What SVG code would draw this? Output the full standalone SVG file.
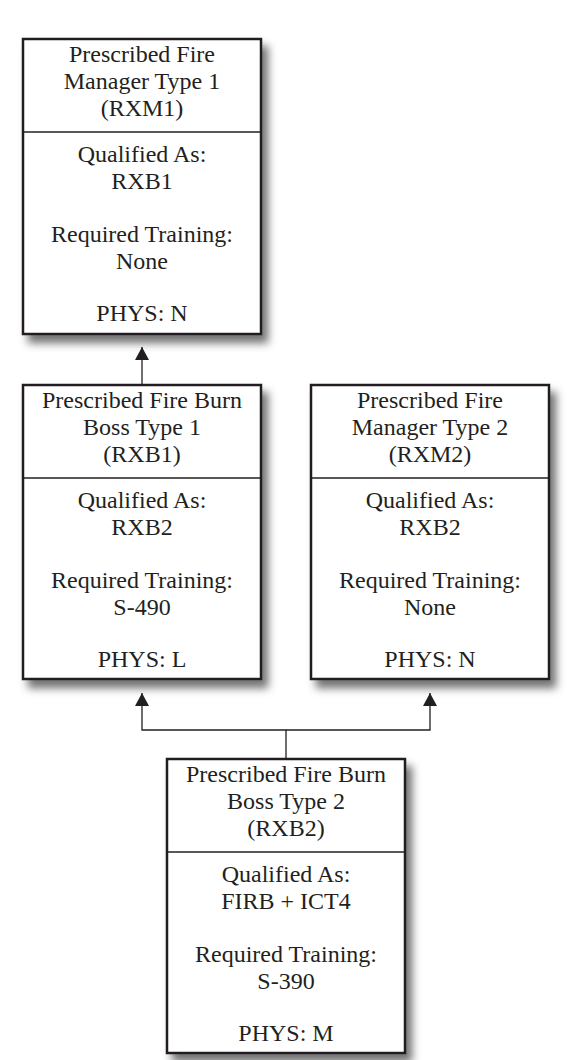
<svg xmlns="http://www.w3.org/2000/svg" width="587" height="1060" viewBox="0 0 587 1060">
<defs>
<style>
.box{fill:#fff;stroke:#231f20;stroke-width:2.5}
.div{stroke:#231f20;stroke-width:1.3}
.t{font-family:"Liberation Serif","Times New Roman",serif;font-size:24px;fill:#231f20;text-anchor:middle}
.c{fill:none;stroke:#231f20;stroke-width:1.3}
</style>
<filter id="sh" x="-10%" y="-10%" width="130%" height="130%">
<feDropShadow dx="6" dy="8" stdDeviation="4.5" flood-color="#000" flood-opacity="0.55"/>
</filter>
<marker id="ah" markerUnits="userSpaceOnUse" markerWidth="13" markerHeight="14" refX="13" refY="7" orient="auto" viewBox="0 0 13 14">
<polygon points="0,0 13,7 0,14" fill="#231f20"/>
</marker>
</defs>
<rect width="587" height="1060" fill="#fff"/>
<g id="connectors">
<path class="c" d="M142 385 V347" marker-end="url(#ah)"/>
<path class="c" d="M286 759 V730 H142 V693" marker-end="url(#ah)"/>
<path class="c" d="M286 730 H430 V693" marker-end="url(#ah)"/>
</g>
<g id="RXM1">
<rect class="box" x="23" y="39" width="238" height="295" filter="url(#sh)"/>
<line class="div" x1="23" y1="132" x2="261" y2="132"/>
<text class="t" x="142" y="62">Prescribed Fire</text>
<text class="t" x="142" y="89">Manager Type 1</text>
<text class="t" x="142" y="116">(RXM1)</text>
<text class="t" x="142" y="162">Qualified As:</text>
<text class="t" x="142" y="189">RXB1</text>
<text class="t" x="142" y="242">Required Training:</text>
<text class="t" x="142" y="269">None</text>
<text class="t" x="142" y="321">PHYS: N</text>
</g>
<g id="RXB1">
<rect class="box" x="23" y="385" width="238" height="294" filter="url(#sh)"/>
<line class="div" x1="23" y1="478" x2="261" y2="478"/>
<text class="t" x="142" y="408">Prescribed Fire Burn</text>
<text class="t" x="142" y="435">Boss Type 1</text>
<text class="t" x="142" y="462">(RXB1)</text>
<text class="t" x="142" y="508">Qualified As:</text>
<text class="t" x="142" y="535">RXB2</text>
<text class="t" x="142" y="588">Required Training:</text>
<text class="t" x="142" y="615">S-490</text>
<text class="t" x="142" y="667">PHYS: L</text>
</g>
<g id="RXM2">
<rect class="box" x="311" y="385" width="238" height="294" filter="url(#sh)"/>
<line class="div" x1="311" y1="478" x2="549" y2="478"/>
<text class="t" x="430" y="408">Prescribed Fire</text>
<text class="t" x="430" y="435">Manager Type 2</text>
<text class="t" x="430" y="462">(RXM2)</text>
<text class="t" x="430" y="508">Qualified As:</text>
<text class="t" x="430" y="535">RXB2</text>
<text class="t" x="430" y="588">Required Training:</text>
<text class="t" x="430" y="615">None</text>
<text class="t" x="430" y="667">PHYS: N</text>
</g>
<g id="RXB2">
<rect class="box" x="167" y="759" width="238" height="294" filter="url(#sh)"/>
<line class="div" x1="167" y1="852" x2="405" y2="852"/>
<text class="t" x="286" y="782">Prescribed Fire Burn</text>
<text class="t" x="286" y="809">Boss Type 2</text>
<text class="t" x="286" y="836">(RXB2)</text>
<text class="t" x="286" y="882">Qualified As:</text>
<text class="t" x="286" y="909">FIRB + ICT4</text>
<text class="t" x="286" y="962">Required Training:</text>
<text class="t" x="286" y="989">S-390</text>
<text class="t" x="286" y="1041">PHYS: M</text>
</g>
</svg>
